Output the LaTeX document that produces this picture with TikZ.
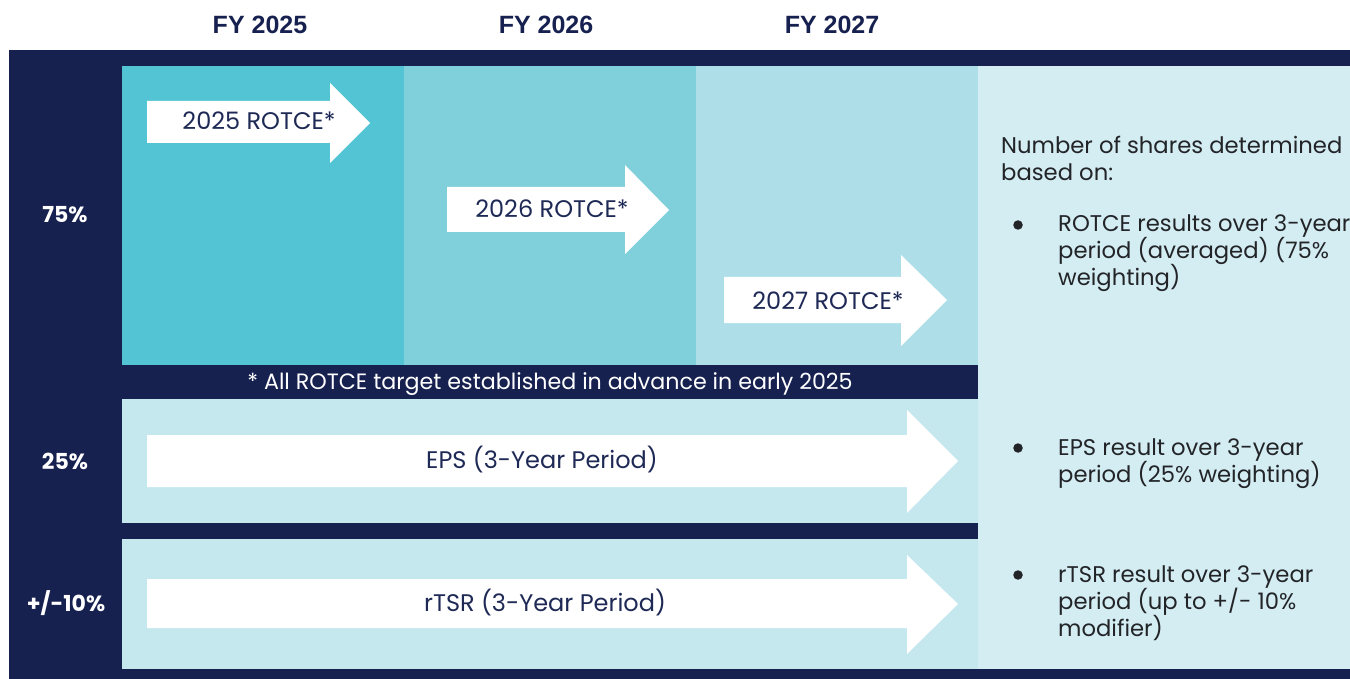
\documentclass[tikz,border=0pt]{standalone}
\usepackage{fontspec}
\setmainfont{Poppins}
\newfontfamily\hdfont{Liberation Sans}
\usetikzlibrary{calc}
\definecolor{navy}{HTML}{172150}
\definecolor{colA}{HTML}{52C4D3}
\definecolor{colB}{HTML}{80D0DC}
\definecolor{colC}{HTML}{AEDFE9}
\definecolor{rowbg}{HTML}{C5E8EF}
\definecolor{panel}{HTML}{D3EDF2}
\definecolor{arrtxt}{HTML}{1E2A55}
\definecolor{bodytxt}{HTML}{222428}
\tikzset{
  hdr/.style={anchor=base, text=navy, font=\hdfont\bfseries\fontsize{25}{30}\selectfont, inner sep=0pt},
  pct/.style={anchor=base, text=white, font=\bfseries\fontsize{22}{26}\selectfont, inner sep=0pt},
  arrlabel/.style={anchor=base, text=arrtxt, font=\fontsize{24}{28}\selectfont, inner sep=0pt},
  note/.style={anchor=base, text=white, font=\fontsize{22.2}{26}\selectfont, inner sep=0pt},
  ptxt/.style={anchor=base west, text=bodytxt, font=\fontsize{22.7}{27}\selectfont, inner sep=0pt},
  bul/.style={circle, fill=bodytxt, inner sep=0pt, minimum size=9.5pt},
  whitearrow/.style={fill=white, draw=none}
}
\begin{document}
\begin{tikzpicture}[x=1pt,y=-1pt]
\useasboundingbox (0,0) rectangle (1350,679);
\fill[white] (0,0) rectangle (1350,679);
% frame
\fill[navy] (9,50) rectangle (1350,679);
% columns
\fill[colA] (122,66) rectangle (404,365);
\fill[colB] (404,66) rectangle (696,365);
\fill[colC] (696,66) rectangle (978,365);
\fill[panel] (978,66) rectangle (1350,669);
\fill[rowbg] (122,399) rectangle (978,523);
\fill[rowbg] (122,539) rectangle (978,669);
% headers
\node[hdr] (fy25) at (260,34) {FY 2025};
\node[hdr] (fy26) at (546,34) {FY 2026};
\node[hdr] (fy27) at (832,34) {FY 2027};
% left labels
\node[pct] (p75) at (65,223) {75\%};
\node[pct] (p25) at (65,469) {25\%};
\node[pct] (p10) at (66,611) {+/-10\%};
% arrows
\fill[whitearrow] (147,101) -- (330,101) -- (330,83) -- (370,123) -- (330,163) -- (330,143) -- (147,143) -- cycle;
\fill[whitearrow] (447,187) -- (625,187) -- (625,165) -- (669,210) -- (625,254) -- (625,232) -- (447,232) -- cycle;
\fill[whitearrow] (724,277) -- (901,277) -- (901,255) -- (947,300) -- (901,346) -- (901,323) -- (724,323) -- cycle;
\fill[whitearrow] (147,435) -- (907,435) -- (907,410) -- (958,461) -- (907,513) -- (907,487) -- (147,487) -- cycle;
\fill[whitearrow] (147,579) -- (907,579) -- (907,555) -- (958,604) -- (907,654) -- (907,628) -- (147,628) -- cycle;
\node[arrlabel] (a25) at (259,130) {2025 ROTCE*};
\node[arrlabel] (a26) at (552,218) {2026 ROTCE*};
\node[arrlabel] (a27) at (828,309) {2027 ROTCE*};
\node[arrlabel] (eps) at (542,468) {EPS (3-Year Period)};
\node[arrlabel] (tsr) at (545,611) {rTSR (3-Year Period)};
% footnote
\node[note] (fn) at (550,389) {* All ROTCE target established in advance in early 2025};
% right panel
\node[ptxt] (h1) at (1001,154) {Number of shares determined};
\node[ptxt] (h2) at (1001,181) {based on:};
\node[bul] (b1) at (1018,225) {};
\node[ptxt] (r1) at (1058,232) {ROTCE results over 3-year};
\node[ptxt] (r2) at (1058,259) {period (averaged) (75\%};
\node[ptxt] (r3) at (1058,286) {weighting)};
\node[bul] (b2) at (1018,448) {};
\node[ptxt] (e1) at (1058,455) {EPS result over 3-year};
\node[ptxt] (e2) at (1058,482) {period (25\% weighting)};
\node[bul] (b3) at (1018,575) {};
\node[ptxt] (t1) at (1058,582) {rTSR result over 3-year};
\node[ptxt] (t2) at (1058,609) {period (up to +/- 10\%};
\node[ptxt] (t3) at (1058,636) {modifier)};
\end{tikzpicture}
\end{document}
